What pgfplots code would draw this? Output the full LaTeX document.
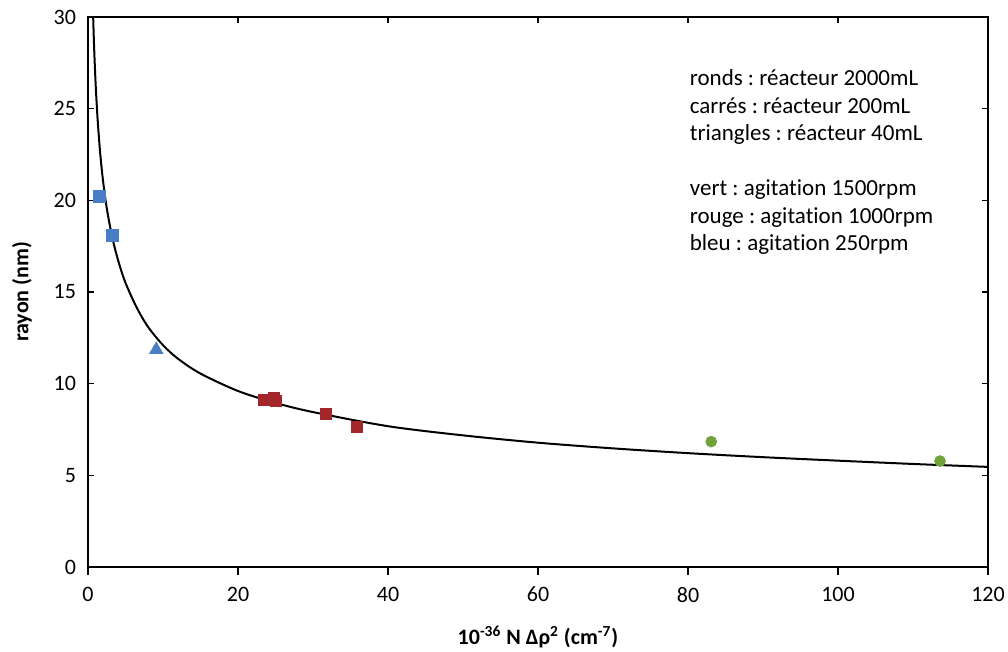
\documentclass[border=0pt]{standalone}
\usepackage{fontspec}
\setmainfont[Ligatures=NoCommon]{Carlito}
\usepackage{pgfplots}
\pgfplotsset{compat=1.18}
\definecolor{cblue}{HTML}{4A7EC4}
\definecolor{cred}{HTML}{A3272A}
\definecolor{cgreen}{HTML}{72A23A}
\frenchspacing
\begin{document}
\begin{tikzpicture}
\pgfplotsset{
  base/.style={
    scale only axis, width=450pt, height=275pt,
    xmin=0, xmax=120, ymin=0, ymax=30,
    axis line style={line width=0.8pt},
    every tick/.style={black, line width=0.8pt},
  }
}
\begin{axis}[base,
  xtick={0,20,...,120}, ytick={0,5,...,30},
  tick align=inside, major tick length=3pt,
  xtick pos=upper, xticklabel pos=lower,
  ytick pos=both, yticklabel pos=left,
  /pgf/number format/assume math mode=true,
  tick label style={font=\fontsize{11}{13}\selectfont},
  xticklabel style={yshift=-6.5pt},
  yticklabel style={xshift=-2.5pt},
  xlabel={10\textsuperscript{-36} N Δρ\textsuperscript{2} (cm\textsuperscript{-7})},
  ylabel={rayon (nm)},
  label style={font=\fontsize{11}{13}\selectfont\bfseries},
  xlabel style={at={(axis description cs:0.5,0)}, anchor=center, yshift=-35pt},
  ylabel style={at={(axis description cs:0,0.5)}, anchor=center, yshift=33pt},
  clip=true,
]
\addplot[black, line width=1pt, smooth, tension=0.5] coordinates {
 (0.62,31) (0.69,30) (0.8,28.52) (1.0,26.5) (1.25,24.62) (1.6,22.69) (2.0,21.08) (2.5,19.58)
 (3.2,18.05) (4,16.75) (5,15.5) (6.5,14.15) (8,13.1) (10,12.1) (12,11.36)
 (15,10.55) (20,9.6) (25,8.95) (30,8.45) (40,7.68) (50,7.18) (60,6.78)
 (70,6.47) (80,6.21) (90,5.99) (100,5.80) (110,5.62) (120,5.46)};
\addplot[only marks, mark=square*, mark size=3pt, color=cblue] coordinates {(1.5,20.2) (3.2,18.1)};
\addplot[only marks, mark=triangle*, mark size=3.8pt, color=cblue] coordinates {(9.1,11.85)};
\addplot[only marks, mark=square*, mark size=2.7pt, color=cred] coordinates {
 (23.5,9.1) (24.8,9.25) (25.1,9.05) (31.7,8.35) (35.8,7.64)};
\addplot[only marks, mark=*, mark size=2.7pt, color=cgreen] coordinates {(83.1,6.84) (113.6,5.78)};
\node[anchor=north west, align=left, inner sep=0pt,
      font=\fontsize{11.5}{13.75}\selectfont] at (axis cs:80.2,27.15)
 {ronds : réacteur 2000mL\\ carrés : réacteur 200mL\\ triangles : réacteur 40mL\\[13.75pt]
  vert : agitation 1500rpm\\ rouge : agitation 1000rpm\\ bleu : agitation 250rpm};
\end{axis}
\begin{axis}[base,
  xtick={0,20,...,120}, ytick=\empty, xticklabels={},
  tick align=outside, major tick length=4pt,
  xtick pos=lower,
]
\end{axis}
\pgfresetboundingbox
\path[use as bounding box] (-44pt,-42.5pt) rectangle (460pt,283.5pt);
\end{tikzpicture}
\end{document}
